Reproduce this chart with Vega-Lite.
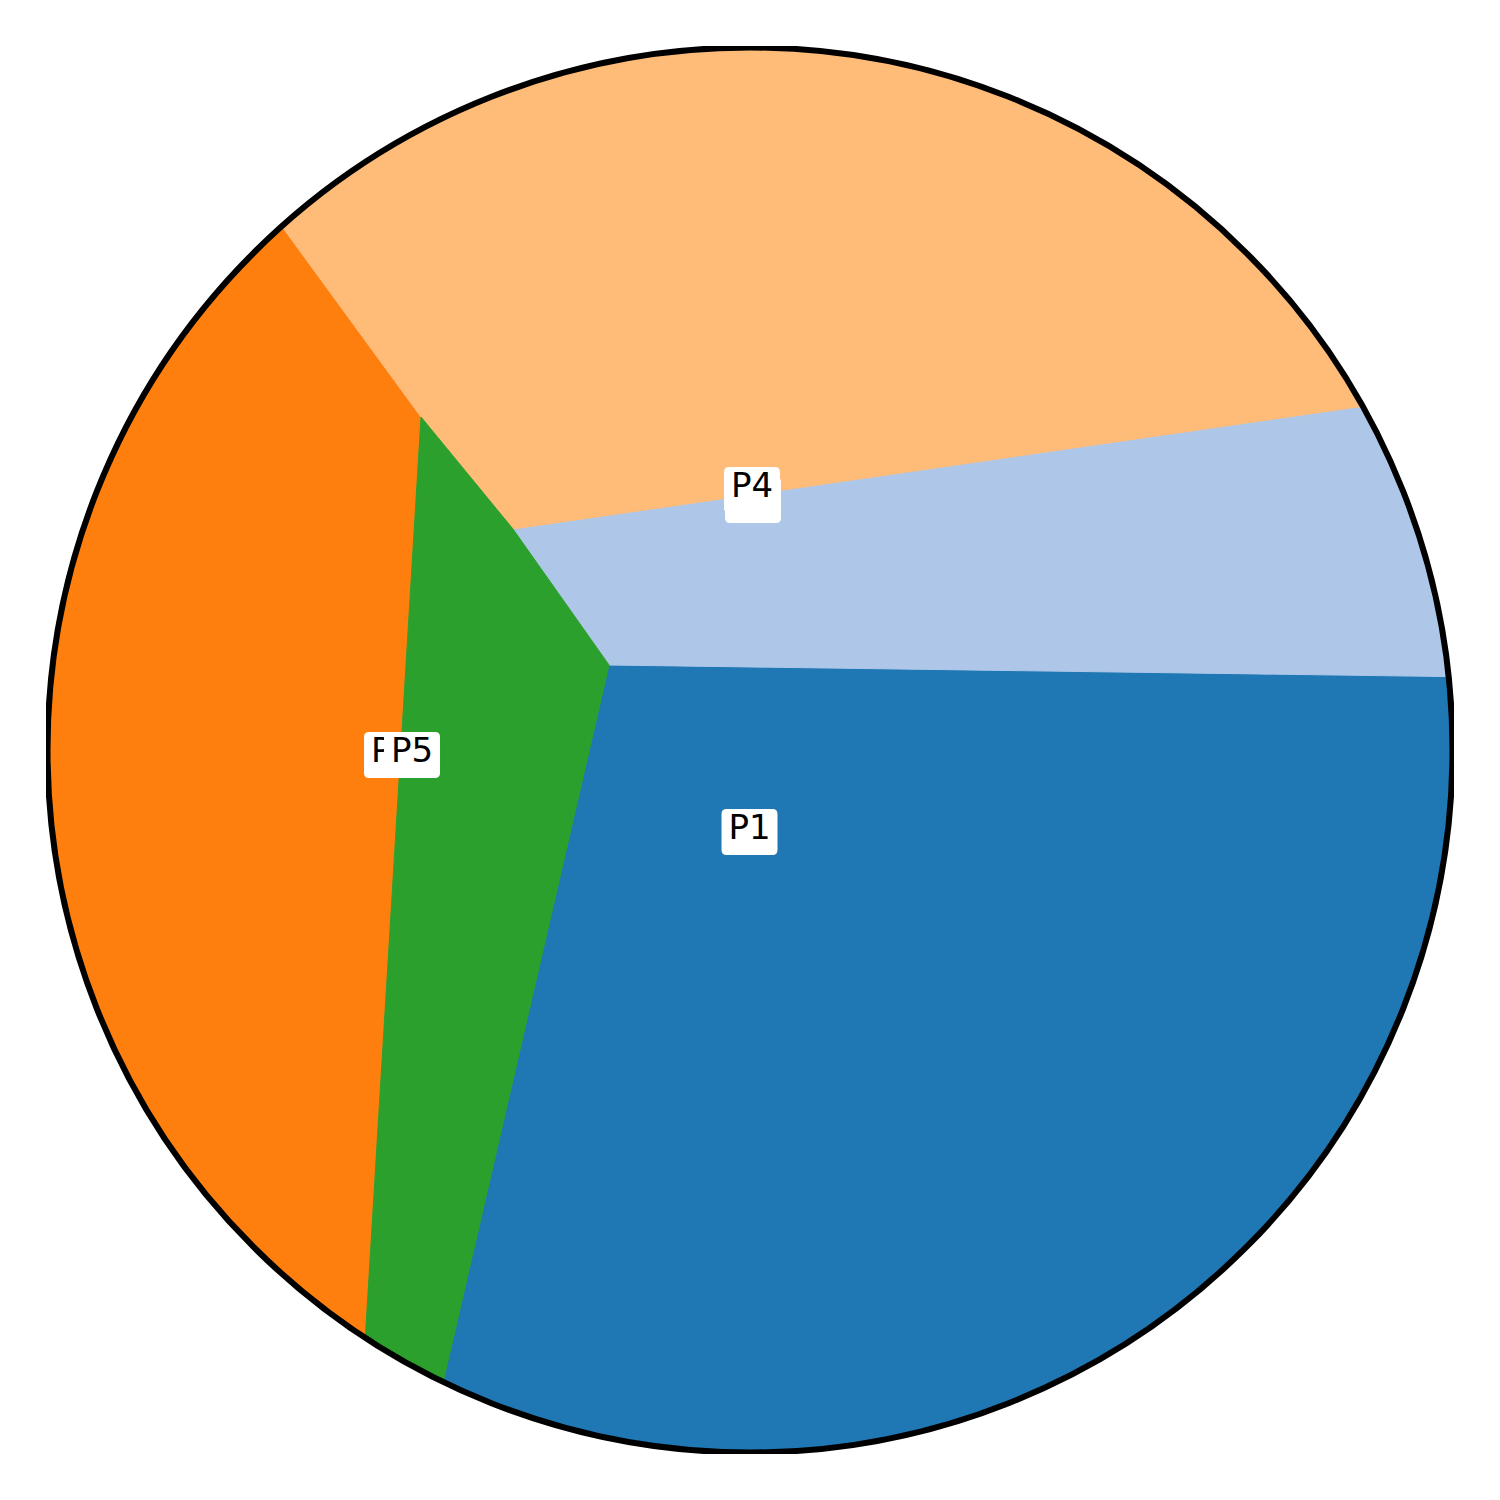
{
  "$schema": "https://vega.github.io/schema/vega-lite/v6.json",
  "width": 1408,
  "height": 1408,
  "autosize": "none",
  "padding": {"left": 46, "top": 46, "right": 46, "bottom": 46},
  "background": "white",
  "config": {"view": {"stroke": null}},
  "datasets": {
    "regions": [
      {"region": "P1", "i": 0, "x": -0.2007, "y": 0.1210},
      {"region": "P1", "i": 1, "x": 0.9945, "y": 0.1045},
      {"region": "P1", "i": 2, "x": 0.9962, "y": 0.0872},
      {"region": "P1", "i": 3, "x": 1, "y": 0},
      {"region": "P1", "i": 4, "x": 0.9962, "y": -0.0872},
      {"region": "P1", "i": 5, "x": 0.9848, "y": -0.1736},
      {"region": "P1", "i": 6, "x": 0.9659, "y": -0.2588},
      {"region": "P1", "i": 7, "x": 0.9397, "y": -0.3420},
      {"region": "P1", "i": 8, "x": 0.9063, "y": -0.4226},
      {"region": "P1", "i": 9, "x": 0.8660, "y": -0.5},
      {"region": "P1", "i": 10, "x": 0.8192, "y": -0.5736},
      {"region": "P1", "i": 11, "x": 0.7660, "y": -0.6428},
      {"region": "P1", "i": 12, "x": 0.7071, "y": -0.7071},
      {"region": "P1", "i": 13, "x": 0.6428, "y": -0.7660},
      {"region": "P1", "i": 14, "x": 0.5736, "y": -0.8192},
      {"region": "P1", "i": 15, "x": 0.5, "y": -0.8660},
      {"region": "P1", "i": 16, "x": 0.4226, "y": -0.9063},
      {"region": "P1", "i": 17, "x": 0.3420, "y": -0.9397},
      {"region": "P1", "i": 18, "x": 0.2588, "y": -0.9659},
      {"region": "P1", "i": 19, "x": 0.1736, "y": -0.9848},
      {"region": "P1", "i": 20, "x": 0.0872, "y": -0.9962},
      {"region": "P1", "i": 21, "x": 0, "y": -1},
      {"region": "P1", "i": 22, "x": -0.0872, "y": -0.9962},
      {"region": "P1", "i": 23, "x": -0.1736, "y": -0.9848},
      {"region": "P1", "i": 24, "x": -0.2588, "y": -0.9659},
      {"region": "P1", "i": 25, "x": -0.3420, "y": -0.9397},
      {"region": "P1", "i": 26, "x": -0.4226, "y": -0.9063},
      {"region": "P1", "i": 27, "x": -0.4368, "y": -0.8996},
      {"region": "P1", "i": 28, "x": -0.2007, "y": 0.1210},

      {"region": "P2", "i": 0, "x": -0.3374, "y": 0.3146},
      {"region": "P2", "i": 1, "x": 0.8722, "y": 0.4894},
      {"region": "P2", "i": 2, "x": 0.9063, "y": 0.4226},
      {"region": "P2", "i": 3, "x": 0.9397, "y": 0.3420},
      {"region": "P2", "i": 4, "x": 0.9659, "y": 0.2588},
      {"region": "P2", "i": 5, "x": 0.9848, "y": 0.1736},
      {"region": "P2", "i": 6, "x": 0.9945, "y": 0.1045},
      {"region": "P2", "i": 7, "x": -0.2007, "y": 0.1210},
      {"region": "P2", "i": 8, "x": -0.3374, "y": 0.3146},

      {"region": "P3", "i": 0, "x": -0.4683, "y": 0.4740},
      {"region": "P3", "i": 1, "x": -0.5476, "y": -0.8368},
      {"region": "P3", "i": 2, "x": -0.5736, "y": -0.8192},
      {"region": "P3", "i": 3, "x": -0.6428, "y": -0.7660},
      {"region": "P3", "i": 4, "x": -0.7071, "y": -0.7071},
      {"region": "P3", "i": 5, "x": -0.7660, "y": -0.6428},
      {"region": "P3", "i": 6, "x": -0.8192, "y": -0.5736},
      {"region": "P3", "i": 7, "x": -0.8660, "y": -0.5},
      {"region": "P3", "i": 8, "x": -0.9063, "y": -0.4226},
      {"region": "P3", "i": 9, "x": -0.9397, "y": -0.3420},
      {"region": "P3", "i": 10, "x": -0.9659, "y": -0.2588},
      {"region": "P3", "i": 11, "x": -0.9848, "y": -0.1736},
      {"region": "P3", "i": 12, "x": -0.9962, "y": -0.0872},
      {"region": "P3", "i": 13, "x": -1, "y": 0},
      {"region": "P3", "i": 14, "x": -0.9962, "y": 0.0872},
      {"region": "P3", "i": 15, "x": -0.9848, "y": 0.1736},
      {"region": "P3", "i": 16, "x": -0.9659, "y": 0.2588},
      {"region": "P3", "i": 17, "x": -0.9397, "y": 0.3420},
      {"region": "P3", "i": 18, "x": -0.9063, "y": 0.4226},
      {"region": "P3", "i": 19, "x": -0.8660, "y": 0.5},
      {"region": "P3", "i": 20, "x": -0.8192, "y": 0.5736},
      {"region": "P3", "i": 21, "x": -0.7660, "y": 0.6428},
      {"region": "P3", "i": 22, "x": -0.7071, "y": 0.7071},
      {"region": "P3", "i": 23, "x": -0.6665, "y": 0.7455},
      {"region": "P3", "i": 24, "x": -0.4683, "y": 0.4740},

      {"region": "P4", "i": 0, "x": -0.4683, "y": 0.4740},
      {"region": "P4", "i": 1, "x": -0.6665, "y": 0.7455},
      {"region": "P4", "i": 2, "x": -0.6428, "y": 0.7660},
      {"region": "P4", "i": 3, "x": -0.5736, "y": 0.8192},
      {"region": "P4", "i": 4, "x": -0.5, "y": 0.8660},
      {"region": "P4", "i": 5, "x": -0.4226, "y": 0.9063},
      {"region": "P4", "i": 6, "x": -0.3420, "y": 0.9397},
      {"region": "P4", "i": 7, "x": -0.2588, "y": 0.9659},
      {"region": "P4", "i": 8, "x": -0.1736, "y": 0.9848},
      {"region": "P4", "i": 9, "x": -0.0872, "y": 0.9962},
      {"region": "P4", "i": 10, "x": 0, "y": 1},
      {"region": "P4", "i": 11, "x": 0.0872, "y": 0.9962},
      {"region": "P4", "i": 12, "x": 0.1736, "y": 0.9848},
      {"region": "P4", "i": 13, "x": 0.2588, "y": 0.9659},
      {"region": "P4", "i": 14, "x": 0.3420, "y": 0.9397},
      {"region": "P4", "i": 15, "x": 0.4226, "y": 0.9063},
      {"region": "P4", "i": 16, "x": 0.5, "y": 0.8660},
      {"region": "P4", "i": 17, "x": 0.5736, "y": 0.8192},
      {"region": "P4", "i": 18, "x": 0.6428, "y": 0.7660},
      {"region": "P4", "i": 19, "x": 0.7071, "y": 0.7071},
      {"region": "P4", "i": 20, "x": 0.7660, "y": 0.6428},
      {"region": "P4", "i": 21, "x": 0.8192, "y": 0.5736},
      {"region": "P4", "i": 22, "x": 0.8660, "y": 0.5},
      {"region": "P4", "i": 23, "x": 0.8722, "y": 0.4894},
      {"region": "P4", "i": 24, "x": -0.3374, "y": 0.3146},
      {"region": "P4", "i": 25, "x": -0.4683, "y": 0.4740},

      {"region": "P5", "i": 0, "x": -0.2007, "y": 0.1210},
      {"region": "P5", "i": 1, "x": -0.4368, "y": -0.8996},
      {"region": "P5", "i": 2, "x": -0.5, "y": -0.8660},
      {"region": "P5", "i": 3, "x": -0.5476, "y": -0.8368},
      {"region": "P5", "i": 4, "x": -0.4683, "y": 0.4740},
      {"region": "P5", "i": 5, "x": -0.3374, "y": 0.3146},
      {"region": "P5", "i": 6, "x": -0.2007, "y": 0.1210}
    ],
    "labels": [
      {"label": "P1", "x": -0.0007, "y": -0.1125},
      {"label": "P2", "x": 0.0043, "y": 0.3601},
      {"label": "P3", "x": -0.5096, "y": -0.0028},
      {"label": "P4", "x": 0.0028, "y": 0.3744},
      {"label": "P5", "x": -0.4811, "y": -0.0028}
    ]
  },
  "encoding": {
    "x": {"field": "x", "type": "quantitative", "scale": {"domain": [-1.002135, 1.002135], "nice": false, "zero": false}, "axis": null},
    "y": {"field": "y", "type": "quantitative", "scale": {"domain": [-1.002135, 1.002135], "nice": false, "zero": false}, "axis": null}
  },
  "layer": [
    {
      "data": {"name": "regions"},
      "mark": {"type": "line", "filled": true, "strokeWidth": 1, "clip": true},
      "encoding": {
        "order": {"field": "i", "type": "quantitative"},
        "color": {"field": "region", "type": "nominal", "scale": {"domain": ["P1", "P2", "P3", "P4", "P5"], "range": ["#1f77b4", "#aec7e8", "#ff7f0e", "#ffbb78", "#2ca02c"]}, "legend": null},
        "stroke": {"field": "region", "type": "nominal", "scale": {"domain": ["P1", "P2", "P3", "P4", "P5"], "range": ["#1f77b4", "#aec7e8", "#ff7f0e", "#ffbb78", "#2ca02c"]}, "legend": null}
      }
    },
    {
      "data": {"values": [{"x": 0, "y": 0}]},
      "mark": {"type": "point", "shape": "circle", "size": 1974025, "filled": false, "stroke": "black", "strokeWidth": 6, "opacity": 1, "clip": true},
      "encoding": {}
    },
    {
      "data": {"name": "labels"},
      "transform": [{"filter": {"field": "label", "oneOf": ["P1", "P2", "P3"]}}],
      "mark": {"type": "point", "shape": "M-1,-1H1Q1.217,-1 1.217,-0.78V0.78Q1.217,1 1,1H-1Q-1.217,1 -1.217,0.78V-0.78Q-1.217,-1 -1,-1Z", "size": 2116, "filled": true, "fill": "white", "stroke": null, "opacity": 1, "yOffset": 3},
      "encoding": {}
    },
    {
      "data": {"name": "labels"},
      "transform": [{"filter": {"field": "label", "oneOf": ["P1", "P2", "P3"]}}],
      "mark": {"type": "text", "font": "DejaVu Sans", "fontSize": 34, "color": "black", "align": "center", "baseline": "middle"},
      "encoding": {"text": {"field": "label", "type": "nominal"}}
    },
    {
      "data": {"name": "labels"},
      "transform": [{"filter": {"field": "label", "oneOf": ["P4", "P5"]}}],
      "mark": {"type": "point", "shape": "M-1,-1H1Q1.217,-1 1.217,-0.78V0.78Q1.217,1 1,1H-1Q-1.217,1 -1.217,0.78V-0.78Q-1.217,-1 -1,-1Z", "size": 2116, "filled": true, "fill": "white", "stroke": null, "opacity": 1, "yOffset": 3},
      "encoding": {}
    },
    {
      "data": {"name": "labels"},
      "transform": [{"filter": {"field": "label", "oneOf": ["P4", "P5"]}}],
      "mark": {"type": "text", "font": "DejaVu Sans", "fontSize": 34, "color": "black", "align": "center", "baseline": "middle"},
      "encoding": {"text": {"field": "label", "type": "nominal"}}
    }
  ]
}
